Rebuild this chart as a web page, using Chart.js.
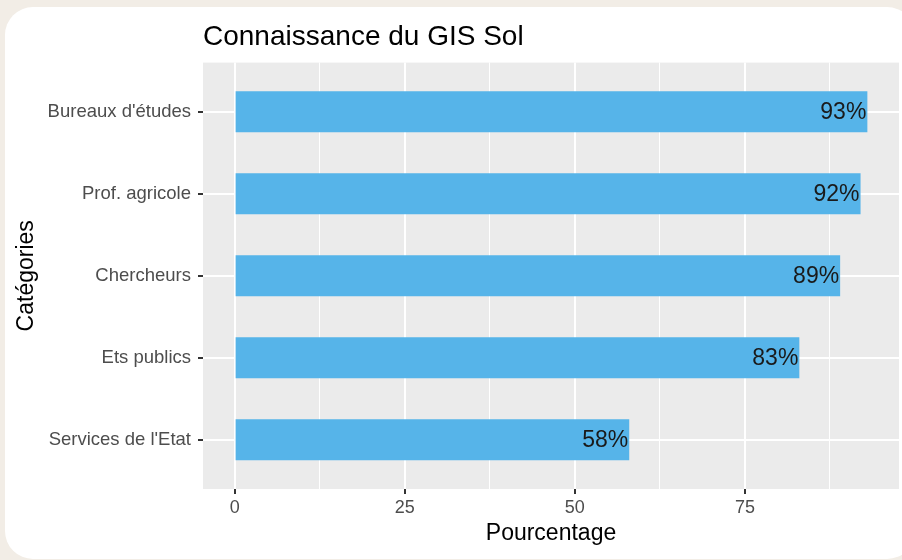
<!DOCTYPE html>
<html>
<head>
<meta charset="utf-8">
<script src="https://cdn.jsdelivr.net/npm/chart.js@4.4.1/dist/chart.umd.min.js"></script>
<style>
  html, body { margin: 0; padding: 0; }
  body { width: 902px; height: 560px; background: #f2ede6; position: relative; overflow: hidden; }
  .card { position: absolute; left: 5px; top: 7px; width: 910px; height: 552px; background: #fff; border-radius: 28px; }
  .wrap { position: absolute; left: 0; top: 0; width: 902px; height: 560px; }
</style>
</head>
<body>
<div class="card"></div>
<div class="wrap"><canvas id="gisChart" width="902" height="560"></canvas></div>
<script>
// données (de haut en bas)
const categories = ["Bureaux d'études", 'Prof. agricole', 'Chercheurs', 'Ets publics', "Services de l'Etat"];
const pourcentages = [93, 92, 89, 83, 58];
const yPositions = [5, 4, 3, 2, 1];
const xTicks = [0, 25, 50, 75];
const xMinorTicks = [12.5, 37.5, 62.5, 87.5];

const FONT = '"Liberation Sans", Arial, Helvetica, sans-serif';

// fond gris du panneau (style ggplot)
const panelBg = {
    id: 'panelBg',
    beforeDraw(chart) {
        const { ctx, chartArea: a } = chart;
        ctx.save();
        ctx.fillStyle = '#ebebeb';
        ctx.fillRect(a.left, a.top, a.right - a.left, a.bottom - a.top);
        ctx.restore();
    }
};

// étiquettes en bout de barre
const barLabels = {
    id: 'barLabels',
    afterDatasetsDraw(chart) {
        const { ctx } = chart;
        const meta = chart.getDatasetMeta(0);
        ctx.save();
        ctx.font = '23px ' + FONT;
        ctx.fillStyle = '#1a1a1a';
        ctx.textAlign = 'right';
        ctx.textBaseline = 'middle';
        meta.data.forEach((bar, i) => {
            ctx.fillText(pourcentages[i] + '%', bar.x - 1, bar.y + 1);
        });
        ctx.restore();
    }
};

new Chart(document.getElementById('gisChart'), {
    type: 'bar',
    data: {
        datasets: [{
            data: pourcentages.map((v, i) => ({ x: v, y: yPositions[i] })),
            backgroundColor: '#56b4e9',
            borderWidth: 0,
            barPercentage: 0.5,
            categoryPercentage: 1
        }]
    },
    options: {
        indexAxis: 'y',
        responsive: false,
        animation: false,
        layout: { padding: { left: 0, right: 3, top: 0, bottom: 0 } },
        plugins: {
            legend: { display: false },
            tooltip: { enabled: false },
            title: {
                display: true,
                text: 'Connaissance du GIS Sol',
                align: 'start',
                fullSize: false,
                color: '#000',
                font: { family: FONT, size: 28, weight: 'normal' },
                padding: { top: 20, bottom: 9 }
            }
        },
        scales: {
            x: {
                type: 'linear',
                min: -4.65,
                max: 97.65,
                afterBuildTicks(scale) {
                    scale.ticks = xTicks.concat(xMinorTicks).sort((a, b) => a - b).map(v => ({ value: v }));
                },
                afterFit(scale) { scale.height = 71; },
                border: { display: false },
                grid: {
                    color: '#fff',
                    lineWidth: c => xTicks.includes(c.tick.value) ? 2 : 1,
                    tickColor: c => xTicks.includes(c.tick.value) ? '#333' : 'rgba(0,0,0,0)',
                    tickLength: 5,
                    tickWidth: 2
                },
                ticks: {
                    color: '#4d4d4d',
                    font: { family: FONT, size: 18 },
                    padding: 3,
                    maxRotation: 0,
                    autoSkip: false,
                    callback: v => xTicks.includes(v) ? String(v) : ''
                },
                title: {
                    display: true,
                    text: 'Pourcentage',
                    color: '#000',
                    font: { family: FONT, size: 23 },
                    padding: { top: 0, bottom: 13 }
                }
            },
            y: {
                type: 'linear',
                min: 0.4,
                max: 5.6,
                offset: false,
                afterBuildTicks(scale) {
                    scale.ticks = yPositions.map(v => ({ value: v }));
                },
                afterFit(scale) { scale.width = 203; },
                border: { display: false },
                grid: {
                    offset: false,
                    color: '#fff',
                    lineWidth: 2,
                    tickColor: '#333',
                    tickLength: 5,
                    tickWidth: 2
                },
                ticks: {
                    color: '#4d4d4d',
                    font: { family: FONT, size: 18.5 },
                    padding: 7,
                    autoSkip: false,
                    callback: v => categories[yPositions.indexOf(v)]
                },
                title: {
                    display: true,
                    text: 'Catégories',
                    color: '#000',
                    font: { family: FONT, size: 23 },
                    padding: { top: 13, bottom: 0 }
                }
            }
        }
    },
    plugins: [panelBg, barLabels]
});
</script>
</body>
</html>
